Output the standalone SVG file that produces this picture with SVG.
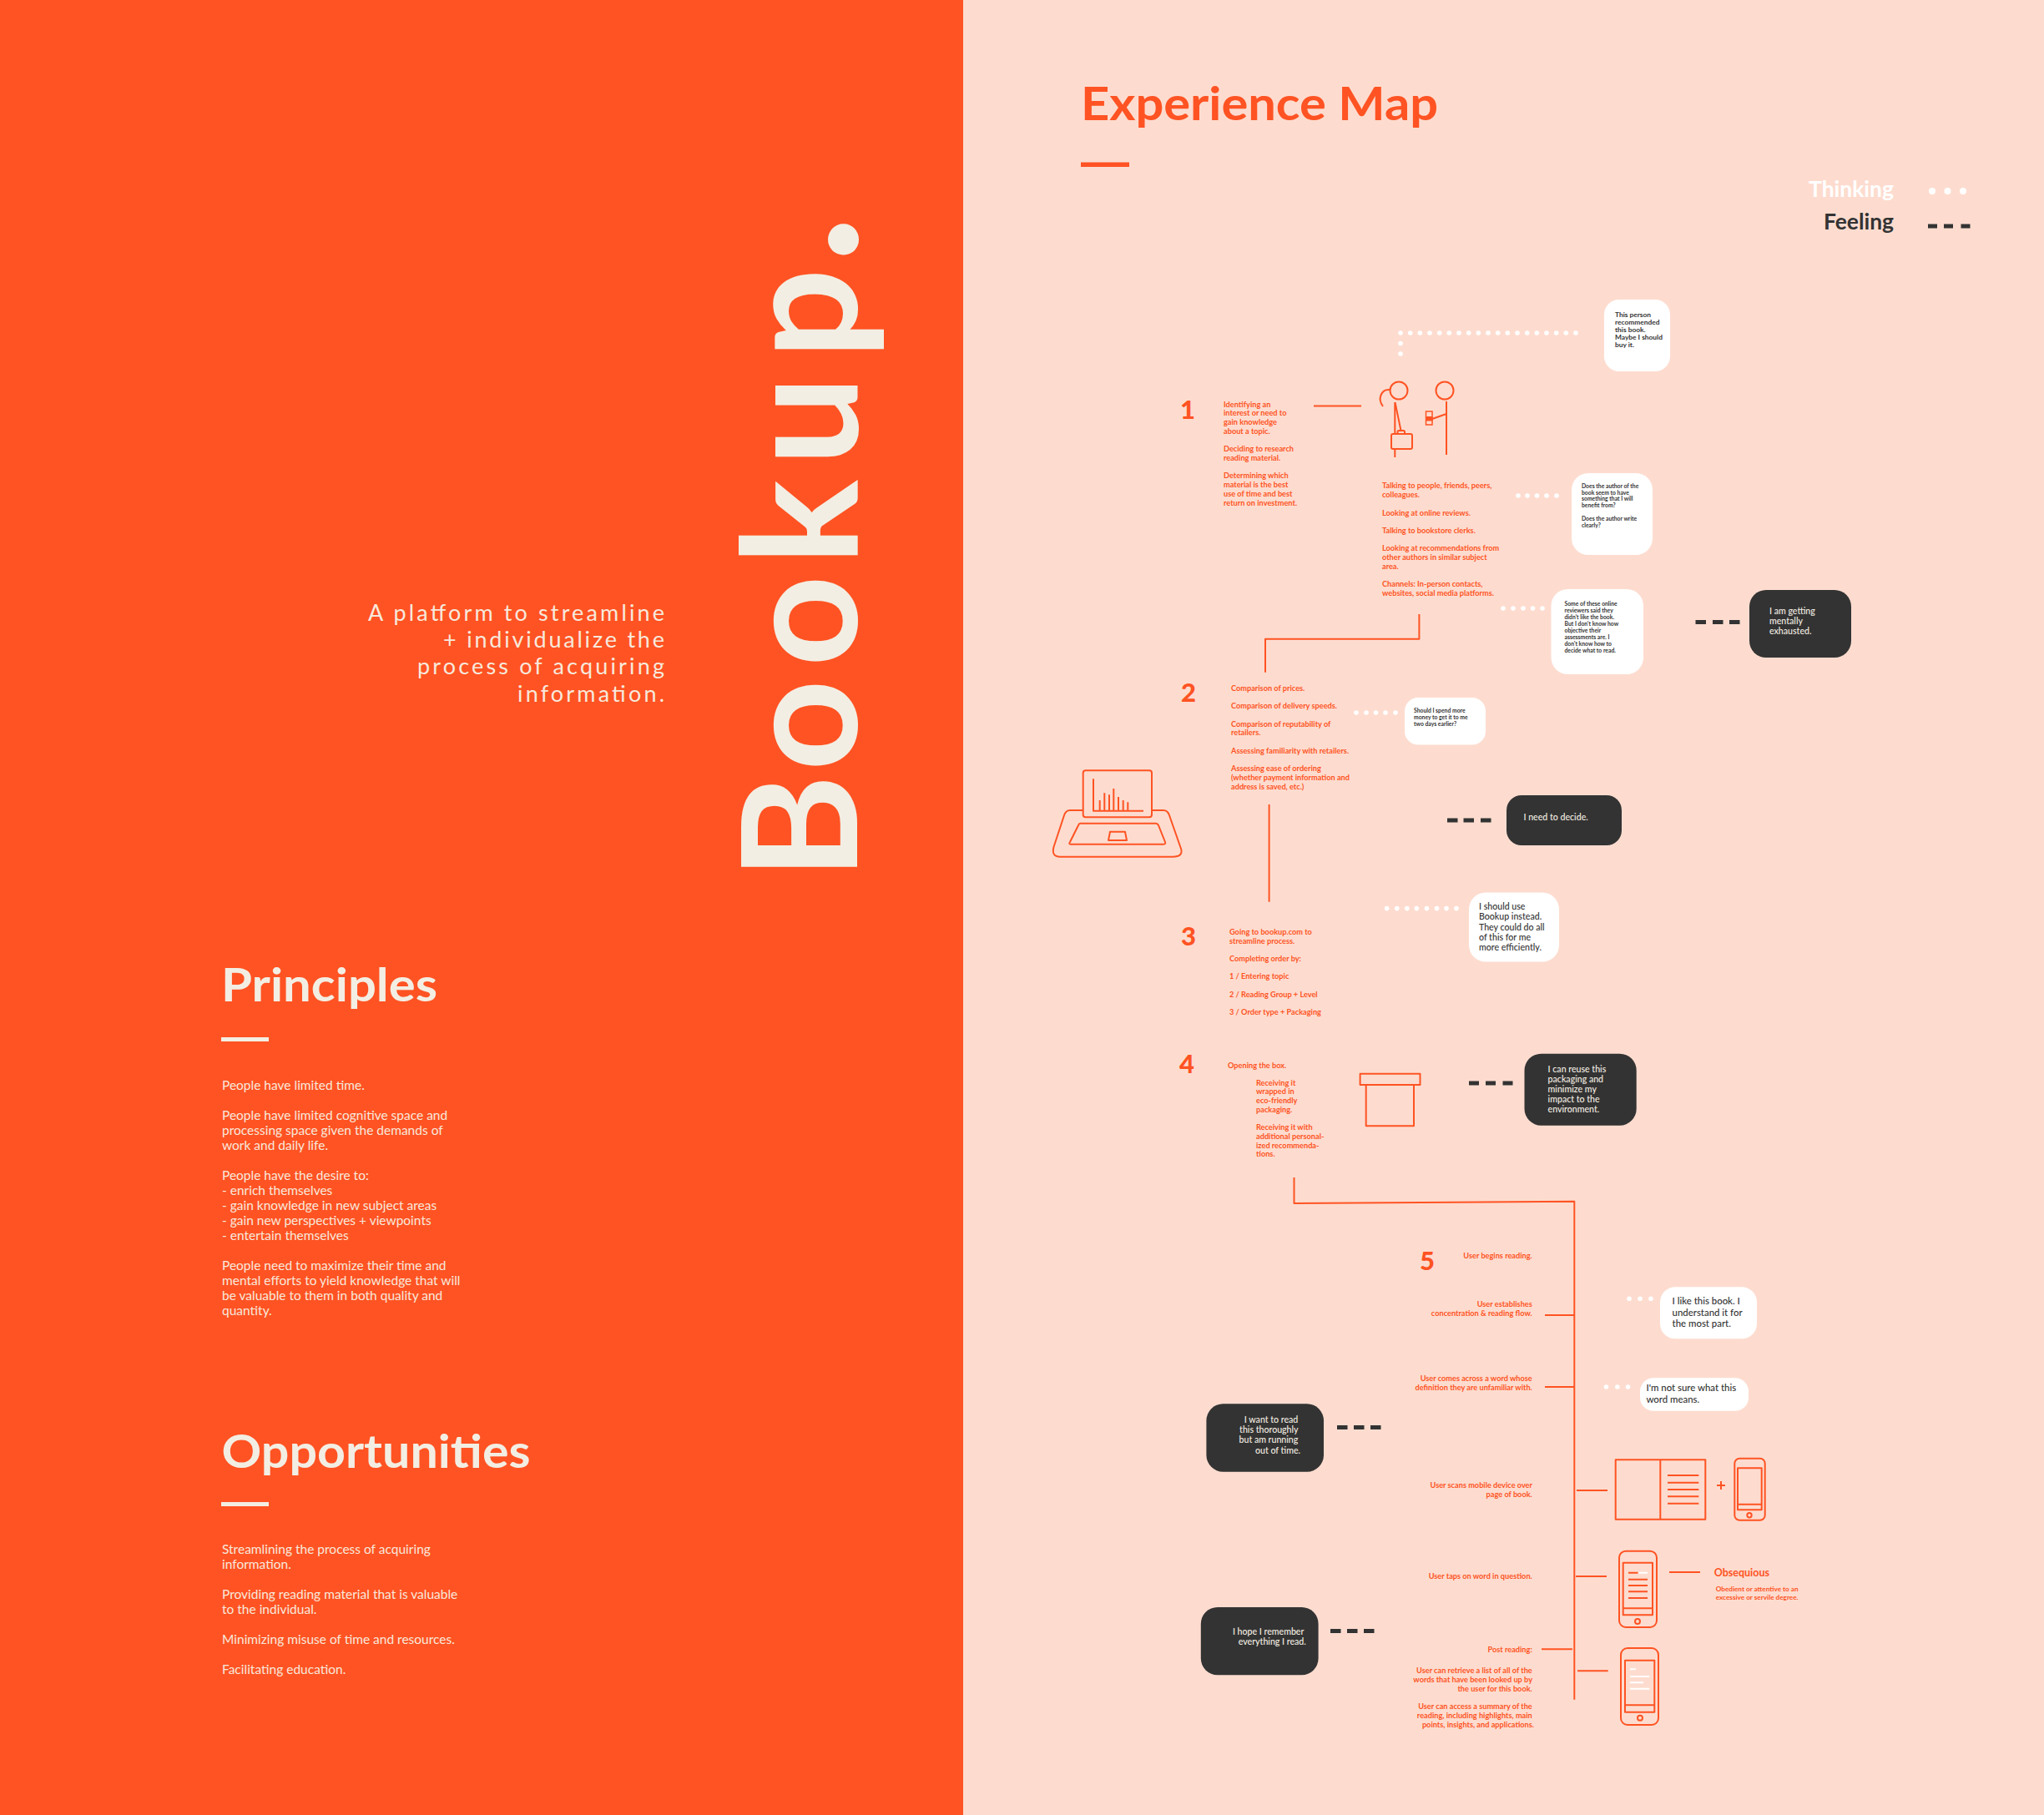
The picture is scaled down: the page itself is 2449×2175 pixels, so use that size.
<svg xmlns="http://www.w3.org/2000/svg" width="2449" height="2175" viewBox="0 0 2449 2175">
<style>
text{font-family:Lato,"Liberation Sans",sans-serif}
.h{font-size:55px;font-weight:700}
.cr{fill:#f3eee3}
.or{fill:#ff5323}
.body{font-size:15.5px;fill:#f7e9dc}
.sub{font-size:27px;fill:#f7e9dc}
.st{font-size:9.2px;fill:#ff5323;font-weight:700}
.r{text-anchor:end}
.num{font-size:31px;font-weight:900;fill:#ff5323}
.t7{font-size:6.8px;fill:#333;font-weight:700}
.t8{font-size:8.4px;fill:#333;font-weight:700}
.t11{font-size:10.6px;fill:#333;font-weight:500}
.t12{font-size:11.4px;fill:#333;font-weight:500}
.d11{font-size:10.6px;fill:#f3eee3;font-weight:500}
.bw{fill:#fff}
.bd{fill:#333}
.ln{stroke:#ff5323;stroke-width:2;fill:none;stroke-linejoin:round}
.wl{stroke:#fff;stroke-width:2;fill:none}
.dots circle{fill:#fff}
.dash rect{fill:#333}
</style>
<rect width="2449" height="2175" fill="#fddccf"/>
<rect width="1154" height="2175" fill="#ff5323"/>

<g id="brand">
<text class="cr" font-size="191" font-weight="700" transform="translate(1027 1040) rotate(-90)" x="-14 116 241 363 482 610">Bookup<tspan x="724" font-size="245">.</tspan></text>
<text class="sub"><tspan x="441" y="744" textLength="355">A platform to streamline</tspan></text>
<text class="sub"><tspan x="531" y="776" textLength="265">+ individualize the</tspan></text>
<text class="sub"><tspan x="500" y="808" textLength="296">process of acquiring</tspan></text>
<text class="sub"><tspan x="620" y="841" textLength="176">information.</tspan></text>
</g>

<g id="principles">
<text class="h cr" x="265" y="1200" textLength="259" lengthAdjust="spacingAndGlyphs">Principles</text>
<rect class="cr" x="265" y="1243" width="57" height="5"/>
<text class="body" x="266">
<tspan x="266" y="1306">People have limited time.</tspan>
<tspan x="266" y="1342">People have limited cognitive space and</tspan>
<tspan x="266" y="1360">processing space given the demands of</tspan>
<tspan x="266" y="1378">work and daily life.</tspan>
<tspan x="266" y="1414">People have the desire to:</tspan>
<tspan x="266" y="1432">- enrich themselves</tspan>
<tspan x="266" y="1450">- gain knowledge in new subject areas</tspan>
<tspan x="266" y="1468">- gain new perspectives + viewpoints</tspan>
<tspan x="266" y="1486">- entertain themselves</tspan>
<tspan x="266" y="1522">People need to maximize their time and</tspan>
<tspan x="266" y="1540">mental efforts to yield knowledge that will</tspan>
<tspan x="266" y="1558">be valuable to them in both quality and</tspan>
<tspan x="266" y="1576">quantity.</tspan>
</text>
</g>

<g id="opportunities">
<text class="h cr" x="265.500" y="1759" textLength="370" lengthAdjust="spacingAndGlyphs">Opportunities</text>
<rect class="cr" x="265" y="1800" width="57" height="5"/>
<text class="body">
<tspan x="266" y="1862">Streamlining the process of acquiring</tspan>
<tspan x="266" y="1880">information.</tspan>
<tspan x="266" y="1916">Providing reading material that is valuable</tspan>
<tspan x="266" y="1934">to the individual.</tspan>
<tspan x="266" y="1970">Minimizing misuse of time and resources.</tspan>
<tspan x="266" y="2006">Facilitating education.</tspan>
</text>
</g>

<g id="map-title">
<text class="h or" x="1295" y="144" textLength="428" lengthAdjust="spacingAndGlyphs">Experience Map</text>
<rect class="or" x="1295" y="194.500" width="58" height="5.500"/>
</g>

<g id="legend">
<text x="2167" y="236" font-size="26" font-weight="700" fill="#fff" textLength="102" lengthAdjust="spacingAndGlyphs">Thinking</text>
<text x="2185" y="275" font-size="26" font-weight="700" fill="#333" textLength="84" lengthAdjust="spacingAndGlyphs">Feeling</text>
<g class="dots"><circle cx="2315" cy="229" r="4"/><circle cx="2333.500" cy="229" r="4"/><circle cx="2352" cy="229" r="4"/></g>
<g class="dash"><rect x="2310" y="268.500" width="11" height="5"/><rect x="2329" y="268.500" width="11" height="5"/><rect x="2349.500" y="268.500" width="11" height="5"/></g>
</g>

<g id="connectors">
<path class="ln" d="M1574 486.600H1631"/>
<path class="ln" d="M1700.400 736V765.700H1516V805.700"/>
<path class="ln" d="M1520.600 964V1080.700"/>
<path class="ln" d="M1550.500 1411V1442L1886.300 1439.700V2036.700"/>
<path class="ln" d="M1851 1576H1886"/>
<path class="ln" d="M1851 1662H1886"/>
<path class="ln" d="M1889 1786H1926"/>
<path class="ln" d="M1888 1889H1925"/>
<path class="ln" d="M2000 1884H2037"/>
<path class="ln" d="M1847 1976.300H1884"/>
<path class="ln" d="M1890 2002.300H1926.700"/>
<g class="dots">
<circle cx="1678" cy="399" r="2.800"/><circle cx="1689.700" cy="399" r="2.800"/><circle cx="1701.300" cy="399" r="2.800"/><circle cx="1713" cy="399" r="2.800"/><circle cx="1724.700" cy="399" r="2.800"/><circle cx="1736.300" cy="399" r="2.800"/><circle cx="1748" cy="399" r="2.800"/><circle cx="1759.700" cy="399" r="2.800"/><circle cx="1771.300" cy="399" r="2.800"/><circle cx="1783" cy="399" r="2.800"/><circle cx="1794.700" cy="399" r="2.800"/><circle cx="1806.300" cy="399" r="2.800"/><circle cx="1818" cy="399" r="2.800"/><circle cx="1829.700" cy="399" r="2.800"/><circle cx="1841.300" cy="399" r="2.800"/><circle cx="1853" cy="399" r="2.800"/><circle cx="1864.700" cy="399" r="2.800"/><circle cx="1876.300" cy="399" r="2.800"/><circle cx="1888" cy="399" r="2.800"/>
<circle cx="1678" cy="411.500" r="2.800"/><circle cx="1678" cy="424" r="2.800"/>
<circle cx="1819" cy="594" r="2.800"/><circle cx="1830" cy="594" r="2.800"/><circle cx="1841.500" cy="594" r="2.800"/><circle cx="1853" cy="594" r="2.800"/><circle cx="1865" cy="594" r="2.800"/>
<circle cx="1801" cy="729" r="2.800"/><circle cx="1813" cy="729" r="2.800"/><circle cx="1825" cy="729" r="2.800"/><circle cx="1836.500" cy="729" r="2.800"/><circle cx="1848" cy="729" r="2.800"/>
<circle cx="1625" cy="854" r="2.800"/><circle cx="1637" cy="854" r="2.800"/><circle cx="1648.500" cy="854" r="2.800"/><circle cx="1660" cy="854" r="2.800"/><circle cx="1672" cy="854" r="2.800"/>
<circle cx="1661.600" cy="1088.600" r="2.800"/><circle cx="1673.700" cy="1088.600" r="2.800"/><circle cx="1685.800" cy="1088.600" r="2.800"/><circle cx="1697.300" cy="1088.600" r="2.800"/><circle cx="1709.400" cy="1088.600" r="2.800"/><circle cx="1721.500" cy="1088.600" r="2.800"/><circle cx="1733" cy="1088.600" r="2.800"/><circle cx="1745" cy="1088.600" r="2.800"/>
<circle cx="1952" cy="1556.300" r="2.800"/><circle cx="1965" cy="1556.300" r="2.800"/><circle cx="1978" cy="1556.300" r="2.800"/>
<circle cx="1924.500" cy="1662" r="2.800"/><circle cx="1937.800" cy="1662" r="2.800"/><circle cx="1950.500" cy="1662" r="2.800"/>
</g>
<g class="dash">
<rect x="2031.500" y="743" width="12.500" height="5"/><rect x="2052" y="743" width="12.500" height="5"/><rect x="2072" y="743" width="12.500" height="5"/>
<rect x="1734" y="980.500" width="12.500" height="5"/><rect x="1753.500" y="980.500" width="12.500" height="5"/><rect x="1774" y="980.500" width="12.500" height="5"/>
<rect x="1760" y="1295.500" width="12" height="5"/><rect x="1780" y="1295.500" width="12" height="5"/><rect x="1800.500" y="1295.500" width="12" height="5"/>
<rect x="1602" y="1708" width="12.500" height="5"/><rect x="1622" y="1708" width="12.500" height="5"/><rect x="1642" y="1708" width="12.500" height="5"/>
<rect x="1594" y="1952" width="12.500" height="5"/><rect x="1614" y="1952" width="12.500" height="5"/><rect x="1634" y="1952" width="12.500" height="5"/>
</g>
</g>

<g id="step-1">
<text class="num" x="1414" y="502">1</text>
<text class="st">
<tspan x="1466" y="488">Identifying an</tspan>
<tspan x="1466" y="498">interest or need to</tspan>
<tspan x="1466" y="509">gain knowledge</tspan>
<tspan x="1466" y="520">about a topic.</tspan>
<tspan x="1466" y="541">Deciding to research</tspan>
<tspan x="1466" y="552">reading material.</tspan>
<tspan x="1466" y="573">Determining which</tspan>
<tspan x="1466" y="584">material is the best</tspan>
<tspan x="1466" y="595">use of time and best</tspan>
<tspan x="1466" y="606">return on investment.</tspan>
</text>
</g>

<g id="people-icon">
<circle class="ln" cx="1676" cy="468" r="10.500"/>
<path class="ln" d="M1665 467C1655 466 1650 478 1657 487"/>
<path class="ln" d="M1671.300 482V548M1671.500 482L1678.700 517"/>
<rect class="ln" x="1674.500" y="516" width="8.500" height="4.500" rx="1.500" fill="#fddccf"/>
<rect x="1667" y="520" width="25" height="18" rx="2" fill="#fddccf" stroke="#ff5323" stroke-width="2"/>
<circle class="ln" cx="1731" cy="468" r="10.500"/>
<path class="ln" d="M1733 481V545M1733 496L1716 502"/>
<rect x="1708.500" y="493" width="7.500" height="16" stroke="#ff5323" stroke-width="1.500" fill="none"/>
<rect class="or" x="1708" y="499" width="8.500" height="5.500"/>
</g>

<g id="step-1-research">
<text class="st">
<tspan x="1656" y="585">Talking to people, friends, peers,</tspan>
<tspan x="1656" y="596">colleagues.</tspan>
<tspan x="1656" y="618">Looking at online reviews.</tspan>
<tspan x="1656" y="639">Talking to bookstore clerks.</tspan>
<tspan x="1656" y="660">Looking at recommendations from</tspan>
<tspan x="1656" y="671">other authors in similar subject</tspan>
<tspan x="1656" y="682">area.</tspan>
<tspan x="1656" y="702.500">Channels: In-person contacts,</tspan>
<tspan x="1656" y="713.500">websites, social media platforms.</tspan>
</text>
</g>

<g id="think-1">
<rect class="bw" x="1922" y="359" width="79" height="86" rx="18"/>
<text class="t8">
<tspan x="1935" y="379.500">This person</tspan>
<tspan x="1935" y="388.600">recommended</tspan>
<tspan x="1935" y="397.700">this book.</tspan>
<tspan x="1935" y="406.800">Maybe I should</tspan>
<tspan x="1935" y="415.900">buy it.</tspan>
</text>
</g>

<g id="think-2">
<rect class="bw" x="1883" y="567" width="97" height="98" rx="20"/>
<text class="t7">
<tspan x="1895" y="585">Does the author of the</tspan>
<tspan x="1895" y="592.700">book seem to have</tspan>
<tspan x="1895" y="600.400">something that I will</tspan>
<tspan x="1895" y="608">benefit from?</tspan>
<tspan x="1895" y="624">Does the author write</tspan>
<tspan x="1895" y="632">clearly?</tspan>
</text>
</g>

<g id="think-3">
<rect class="bw" x="1858.500" y="706" width="110.500" height="102" rx="20"/>
<text class="t7">
<tspan x="1874.500" y="725.700">Some of these online</tspan>
<tspan x="1874.500" y="733.800">reviewers said they</tspan>
<tspan x="1874.500" y="741.800">didn't like the book.</tspan>
<tspan x="1874.500" y="749.800">But I don't know how</tspan>
<tspan x="1874.500" y="757.800">objective their</tspan>
<tspan x="1874.500" y="765.800">assessments are. I</tspan>
<tspan x="1874.500" y="773.900">don't know how to</tspan>
<tspan x="1874.500" y="782">decide what to read.</tspan>
</text>
</g>

<g id="feel-1">
<rect class="bd" x="2096" y="707" width="122" height="81" rx="20"/>
<text class="d11">
<tspan x="2120" y="735.500">I am getting</tspan>
<tspan x="2120" y="747.500">mentally</tspan>
<tspan x="2120" y="759.500">exhausted.</tspan>
</text>
</g>

<g id="step-2">
<text class="num" x="1415" y="841">2</text>
<text class="st">
<tspan x="1475" y="828">Comparison of prices.</tspan>
<tspan x="1475" y="849">Comparison of delivery speeds.</tspan>
<tspan x="1475" y="871">Comparison of reputability of</tspan>
<tspan x="1475" y="881">retailers.</tspan>
<tspan x="1475" y="903">Assessing familiarity with retailers.</tspan>
<tspan x="1475" y="924">Assessing ease of ordering</tspan>
<tspan x="1475" y="935">(whether payment information and</tspan>
<tspan x="1475" y="946">address is saved, etc.)</tspan>
</text>
</g>

<g id="laptop-icon">
<path class="ln" d="M1297.700 971H1282Q1277 971 1275 977L1262.500 1015Q1259.500 1026.700 1270 1026.700H1405Q1418 1026.700 1415 1017L1401 977Q1399 971 1394 971H1380"/>
<path class="ln" d="M1294 986.700H1385Q1387 986.700 1388 989L1396 1009Q1397 1011.700 1394 1011.700H1283Q1280 1011.700 1282 1009L1292 989Q1293 986.700 1294 986.700Z"/>
<path class="ln" d="M1330 996.700H1348L1350 1007H1328Z"/>
<rect class="ln" x="1297.700" y="923.300" width="82.300" height="56" rx="3"/>
<path class="ln" d="M1310 933.300V971.700H1370M1317.700 959V971M1323.300 950.300V971M1329 952.300V971M1334.300 945V971M1340 955V971M1345.700 959V971M1351.300 961.300V971"/>
</g>

<g id="think-4">
<rect class="bw" x="1683" y="836" width="97" height="56.500" rx="16"/>
<text class="t7">
<tspan x="1694" y="854">Should I spend more</tspan>
<tspan x="1694" y="862">money to get it to me</tspan>
<tspan x="1694" y="870">two days earlier?</tspan>
</text>
</g>

<g id="feel-2">
<rect class="bd" x="1805" y="953" width="138" height="60" rx="18"/>
<text class="d11" x="1825.500" y="983">I need to decide.</text>
</g>

<g id="step-3">
<text class="num" x="1415" y="1133">3</text>
<text class="st">
<tspan x="1473" y="1120">Going to bookup.com to</tspan>
<tspan x="1473" y="1131">streamline process.</tspan>
<tspan x="1473" y="1152">Completing order by:</tspan>
<tspan x="1473" y="1173">1 / Entering topic</tspan>
<tspan x="1473" y="1195">2 / Reading Group + Level</tspan>
<tspan x="1473" y="1216">3 / Order type + Packaging</tspan>
</text>
</g>

<g id="think-5">
<rect class="bw" x="1760" y="1069.600" width="108" height="83" rx="20"/>
<text class="t11">
<tspan x="1772" y="1089.600">I should use</tspan>
<tspan x="1772" y="1101.800">Bookup instead.</tspan>
<tspan x="1772" y="1114.600">They could do all</tspan>
<tspan x="1772" y="1126.800">of this for me</tspan>
<tspan x="1772" y="1139">more efficiently.</tspan>
</text>
</g>

<g id="step-4">
<text class="num" x="1413" y="1286">4</text>
<text class="st">
<tspan x="1471" y="1280">Opening the box.</tspan>
<tspan x="1505" y="1300.700">Receiving it</tspan>
<tspan x="1505" y="1311">wrapped in</tspan>
<tspan x="1505" y="1321.700">eco-friendly</tspan>
<tspan x="1505" y="1332.700">packaging.</tspan>
<tspan x="1505" y="1353.700">Receiving it with</tspan>
<tspan x="1505" y="1364.700">additional personal-</tspan>
<tspan x="1505" y="1375.700">ized recommenda-</tspan>
<tspan x="1505" y="1385.700">tions.</tspan>
</text>
</g>

<g id="box-icon">
<rect class="ln" x="1629.600" y="1286.700" width="71.900" height="13.300"/>
<rect class="ln" x="1636.700" y="1300" width="57.300" height="49.300"/>
</g>

<g id="feel-3">
<rect class="bd" x="1826.500" y="1262.700" width="134.200" height="86" rx="20"/>
<text class="d11">
<tspan x="1854.600" y="1284.700">I can reuse this</tspan>
<tspan x="1854.600" y="1296.700">packaging and</tspan>
<tspan x="1854.600" y="1308.700">minimize my</tspan>
<tspan x="1854.600" y="1320.700">impact to the</tspan>
<tspan x="1854.600" y="1332.700">environment.</tspan>
</text>
</g>

<g id="step-5">
<text class="num" x="1701" y="1522">5</text>
<text class="st r">
<tspan x="1838" y="1507.700">User begins reading.</tspan>
<tspan x="1838" y="1565.700">User establishes</tspan>
<tspan x="1838" y="1576.700">concentration &amp; reading flow.</tspan>
<tspan x="1838" y="1655">User comes across a word whose</tspan>
<tspan x="1838" y="1665.700">definition they are unfamiliar with.</tspan>
<tspan x="1838" y="1782.700">User scans mobile device over</tspan>
<tspan x="1838" y="1793.700">page of book.</tspan>
<tspan x="1838" y="1891.700">User taps on word in question.</tspan>
<tspan x="1838" y="1979.700">Post reading:</tspan>
<tspan x="1838" y="2005">User can retrieve a list of all of the</tspan>
<tspan x="1838" y="2016">words that have been looked up by</tspan>
<tspan x="1838" y="2027">the user for this book.</tspan>
<tspan x="1838" y="2048">User can access a summary of the</tspan>
<tspan x="1838" y="2059">reading, including highlights, main</tspan>
<tspan x="1838" y="2070">points, insights, and applications.</tspan>
</text>
</g>

<g id="think-6">
<rect class="bw" x="1989" y="1542.300" width="116" height="62" rx="18"/>
<text class="t12">
<tspan x="2003.600" y="1562.700">I like this book. I</tspan>
<tspan x="2003.600" y="1576.700">understand it for</tspan>
<tspan x="2003.600" y="1589.700">the most part.</tspan>
</text>
</g>

<g id="think-7">
<rect class="bw" x="1965" y="1651.300" width="130" height="39.400" rx="16"/>
<text class="t12">
<tspan x="1972.400" y="1666.700">I'm not sure what this</tspan>
<tspan x="1972.400" y="1681">word means.</tspan>
</text>
</g>

<g id="feel-4">
<rect class="bd" x="1445.400" y="1682.300" width="140.600" height="81.400" rx="20"/>
<text class="d11 r">
<tspan x="1558" y="1705">I want to read</tspan>
<tspan x="1558" y="1717">this thoroughly</tspan>
<tspan x="1558" y="1729">but am running</tspan>
<tspan x="1558" y="1742">out of time.</tspan>
</text>
</g>

<g id="feel-5">
<rect class="bd" x="1438.800" y="1926" width="140.800" height="81.300" rx="20"/>
<text class="d11 r">
<tspan x="1564.800" y="1958.700">I hope I remember</tspan>
<tspan x="1564.800" y="1970.700">everything I read.</tspan>
</text>
</g>

<g id="book-phone-icon">
<rect class="ln" x="1935.700" y="1749.300" width="107.600" height="71.400"/>
<path class="ln" d="M1989.300 1749.300V1820.700M1998 1768H2035.300M1998 1776.700H2035.300M1998 1785H2035.300M1998 1793.300H2035.300M1998 1801.700H2035.300M2057 1780H2067M2062 1775V1785"/>
<rect class="ln" x="2078.300" y="1747.700" width="36.400" height="74" rx="6"/>
<path class="ln" d="M2082 1759.300H2110.700V1809.300H2082ZM2082 1802.700H2110.700"/>
<circle class="ln" cx="2096" cy="1815.700" r="2.700"/>
</g>

<g id="phone-word-icon">
<rect class="ln" x="1940" y="1858.700" width="45" height="91.300" rx="8"/>
<path class="ln" d="M1944.700 1872.700H1980V1935.300H1944.700ZM1944.700 1927.300H1980"/>
<circle class="ln" cx="1962" cy="1943" r="3"/>
<path class="ln" d="M1951 1884.700H1962.500M1951 1892.700H1974M1951 1900H1974M1951 1907.300H1974M1951 1915H1974"/>
<path class="wl" d="M1963.300 1884.700H1974"/>
</g>

<g id="definition">
<text x="2053.700" y="1888.700" font-size="12.500" font-weight="700" fill="#ff5323">Obsequious</text>
<text class="st" style="font-size:8.200px">
<tspan x="2055.700" y="1907.300">Obedient or attentive to an</tspan>
<tspan x="2055.700" y="1916.700">excessive or servile degree.</tspan>
</text>
</g>

<g id="phone-summary-icon">
<rect class="ln" x="1942" y="1975" width="45" height="92" rx="8"/>
<path class="ln" d="M1947 1989.700H1982.300V2051.700H1947ZM1947 2043.300H1982.300"/>
<circle class="ln" cx="1965" cy="2058.700" r="3"/>
<path class="wl" d="M1953 2000.300H1960M1953 2009H1976.300M1953 2016.300H1969M1953 2023.700H1976.300"/>
</g>
</svg>
